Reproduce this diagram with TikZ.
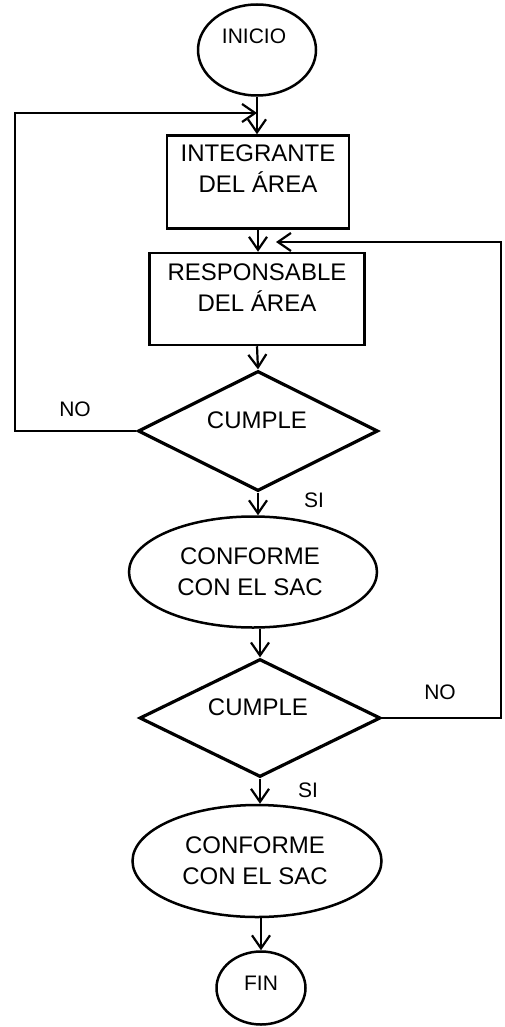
\documentclass[tikz,border=0pt]{standalone}
\usepackage{fontspec}
\setmainfont{Liberation Sans}
\usetikzlibrary{shapes.geometric,arrows.meta}
\begin{document}
\begin{tikzpicture}[x=1pt,y=-1pt,
  shapeline/.style={draw=black,line width=2.5pt},
  terminal/.style={shapeline,ellipse,inner sep=0pt},
  procbox/.style={shapeline,rectangle,inner sep=0pt},
  decision/.style={shapeline,diamond,inner sep=0pt,line width=3.2pt},
  txt/.style={font=\fontsize{24}{31}\selectfont,align=center,inner sep=0pt},
  smalltxt/.style={font=\fontsize{21}{25}\selectfont,inner sep=0pt},
  tag/.style={font=\fontsize{21}{25}\selectfont,inner sep=0pt},
  flow/.style={line width=2.2pt,-{Straight Barb[length=13pt,width=18pt]}}]

% canvas
\fill[white] (0,0) rectangle (505,1027);
\useasboundingbox (0,0) rectangle (505,1027);

% shapes
\node[terminal,minimum width=118pt,minimum height=91pt] (inicio) at (257,50) {};
\node[smalltxt] (inicioT) at (254,36) {INICIO};

\node[procbox,minimum width=182pt,minimum height=93pt] (b1) at (258,182) {};
\node[txt] (b1T) at (258,169) {INTEGRANTE\\DEL ÁREA};

\node[procbox,minimum width=215pt,minimum height=92pt] (b2) at (257,299) {};
\node[txt] (b2T) at (257,288) {RESPONSABLE\\DEL ÁREA};

\node[decision,minimum width=240pt,minimum height=120pt] (d1) at (258,431) {};
\node[txt] (d1T) at (257,420) {CUMPLE};

\node[terminal,minimum width=248pt,minimum height=111pt] (e1) at (253,572) {};
\node[txt] (e1T) at (250,572) {CONFORME\\CON EL SAC};

\node[decision,minimum width=241pt,minimum height=118pt] (d2) at (260,718) {};
\node[txt] (d2T) at (258,707) {CUMPLE};

\node[terminal,minimum width=249pt,minimum height=112pt] (e2) at (257,861) {};
\node[txt] (e2T) at (255,861) {CONFORME\\CON EL SAC};

\node[terminal,minimum width=89pt,minimum height=73pt] (fin) at (261,988) {};
\node[smalltxt] (finT) at (261,983) {FIN};

% branch labels
\node[tag] (no1) at (75,409) {NO};
\node[tag] (si1) at (314,500) {SI};
\node[tag] (no2) at (440,692) {NO};
\node[tag] (si2) at (308,790) {SI};

% main flow
\draw[flow] (inicio.south) -- (inicio.south |- b1.north);
\draw[flow] (b1.south) -- (b1.south |- b2.north);
\draw[flow] (b2.south) -- (d1.north);
\draw[flow] (d1.south) -- (d1.south |- e1.north);
\draw[flow] (d2.north |- e1.south) -- (d2.north);
\draw[flow] (d2.south) -- (d2.south |- e2.north);
\draw[flow] (fin.north |- e2.south) -- (fin.north);

% return loops
\coordinate (lx) at (15,113);
\coordinate (jl) at (inicio.south |- lx);
\draw[flow] (d1.west) -| (lx) -- (jl);

\coordinate (rx) at (501,242);
\coordinate (jr) at (276,242);
\draw[flow] (d2.east) -| (rx) -- (jr);
\end{tikzpicture}
\end{document}
